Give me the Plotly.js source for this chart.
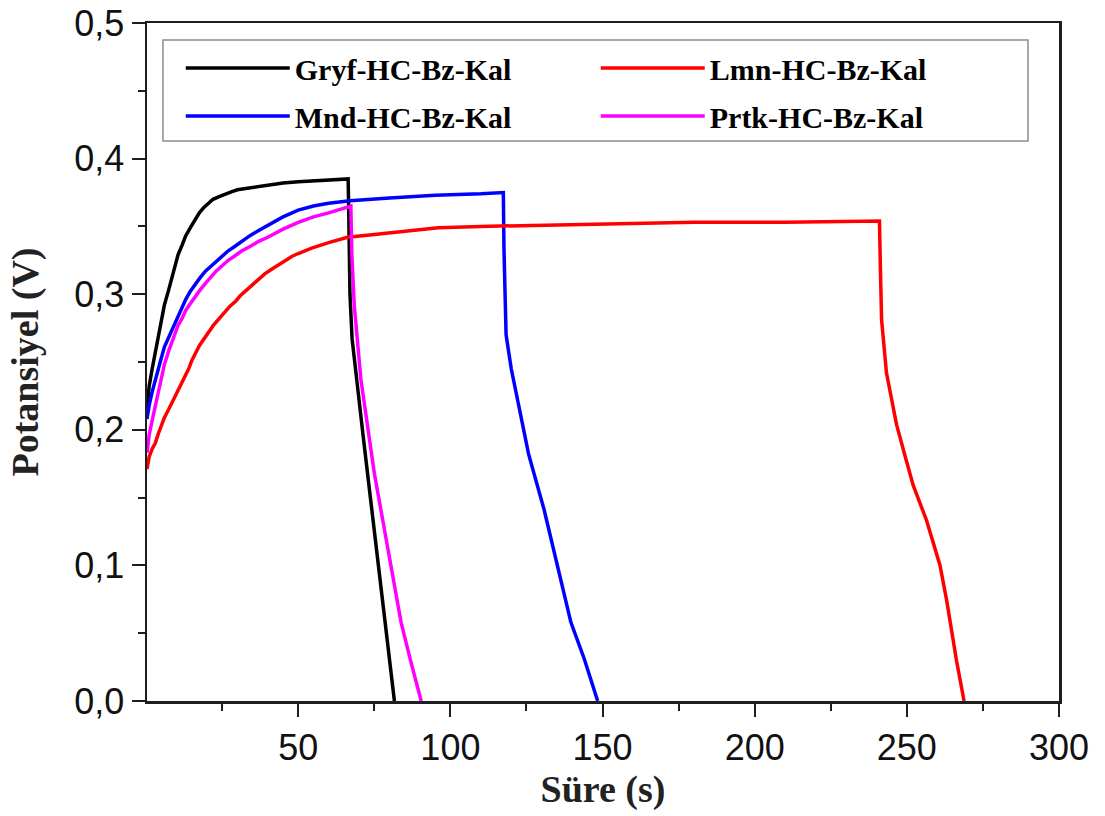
<!DOCTYPE html>
<html>
<head>
<meta charset="utf-8">
<script src="https://cdn.plot.ly/plotly-3.0.1.min.js"></script>
<style>html,body{margin:0;padding:0;background:#fff;}#chart{width:1105px;height:816px;}</style>
</head>
<body>
<div id="chart"></div>
<script>
// ---- data ----
const seriesNames = ["Gryf-HC-Bz-Kal", "Mnd-HC-Bz-Kal", "Lmn-HC-Bz-Kal", "Prtk-HC-Bz-Kal"];
const seriesColors = ["#000000", "#0000ff", "#ff0000", "#ff00ff"];

const gryfT = [0.3, 1, 2, 3, 4, 5, 6, 7.4, 8.5, 9.5, 10.5, 11.8, 13, 14.8, 16, 17.5, 19, 20.5, 22, 24, 26, 28, 30, 33, 36, 41, 45, 50, 54, 58, 62, 66.4, 66.6, 67, 67.7, 69.1, 71.3, 73.5, 75.7, 78, 79.7, 81.6];
const gryfV = [0.215, 0.232, 0.245, 0.257, 0.270, 0.281, 0.292, 0.303, 0.313, 0.321, 0.329, 0.336, 0.343, 0.350, 0.355, 0.360, 0.364, 0.367, 0.370, 0.372, 0.374, 0.3755, 0.377, 0.378, 0.3795, 0.381, 0.382, 0.383, 0.3835, 0.384, 0.3845, 0.385, 0.36, 0.30, 0.267, 0.237, 0.196, 0.154, 0.113, 0.072, 0.036, 0.0];

const mndT = [0.3, 1, 2, 3, 4, 5, 6, 7.4, 8.5, 9.5, 10.5, 11.8, 13, 14.5, 16, 17.7, 19.5, 21, 23, 25, 27, 29, 31.5, 34, 37, 40, 45, 50, 55, 60, 67, 80, 95, 110, 117.4, 117.6, 117.9, 118.3, 120, 122, 125.7, 130.8, 135.2, 139.6, 144, 148.4];
const mndV = [0.208, 0.218, 0.228, 0.237, 0.245, 0.253, 0.261, 0.268, 0.275, 0.280, 0.285, 0.291, 0.296, 0.302, 0.307, 0.312, 0.317, 0.320, 0.324, 0.328, 0.332, 0.335, 0.339, 0.343, 0.347, 0.351, 0.357, 0.362, 0.365, 0.367, 0.369, 0.371, 0.373, 0.374, 0.375, 0.334, 0.305, 0.270, 0.245, 0.223, 0.182, 0.141, 0.099, 0.058, 0.031, 0.0];

const lmnT = [0.3, 1, 2, 3, 4, 5, 6, 7.4, 8.5, 9.5, 10.5, 11.8, 13, 14, 15, 16.3, 17.5, 19, 20.5, 22.1, 24, 25.5, 27.5, 29.5, 31, 33, 35, 36.8, 39, 41, 43, 45.6, 48, 50, 54.4, 60, 66.2, 75, 83.8, 96, 110, 130, 155, 180, 210, 241, 241.3, 241.7, 243.3, 246.6, 249.5, 252.1, 256.5, 260.9, 263.1, 266.3, 268.8];
const lmnV = [0.171, 0.180, 0.186, 0.190, 0.197, 0.203, 0.209, 0.215, 0.220, 0.224, 0.229, 0.234, 0.240, 0.245, 0.251, 0.257, 0.262, 0.267, 0.272, 0.277, 0.282, 0.286, 0.291, 0.295, 0.299, 0.303, 0.307, 0.311, 0.315, 0.318, 0.321, 0.325, 0.328, 0.330, 0.334, 0.338, 0.342, 0.344, 0.346, 0.349, 0.350, 0.351, 0.352, 0.353, 0.353, 0.354, 0.32, 0.281, 0.242, 0.204, 0.180, 0.159, 0.133, 0.100, 0.074, 0.030, 0.0];

const prtkT = [0.3, 1, 2, 3, 4, 5, 6, 7.4, 8.5, 9.5, 10.5, 11.8, 13, 14.5, 16, 17.7, 19.5, 21, 23, 25, 27, 29, 31.5, 34, 37, 40, 45, 50, 55, 60, 64, 67.3, 67.6, 68.4, 70.6, 75, 79.4, 83.8, 87, 90.4];
const prtkV = [0.183, 0.196, 0.207, 0.217, 0.228, 0.238, 0.248, 0.258, 0.265, 0.271, 0.277, 0.282, 0.288, 0.293, 0.298, 0.303, 0.308, 0.312, 0.317, 0.321, 0.325, 0.328, 0.332, 0.335, 0.339, 0.342, 0.348, 0.353, 0.357, 0.360, 0.363, 0.365, 0.33, 0.292, 0.237, 0.168, 0.113, 0.058, 0.029, 0.0];

const xTickVals = [50, 100, 150, 200, 250, 300];
const xMinorVals = [25, 75, 125, 175, 225, 275];
const xTitle = "Süre (s)";
const yTitle = "Potansiyel (V)";

// ---- traces ----
const xs = [gryfT, mndT, lmnT, prtkT];
const ys = [gryfV, mndV, lmnV, prtkV];
const legendOf = ["legend", "legend2", "legend", "legend2"];
const traces = seriesNames.map((n, i) => ({
  type: "scatter", mode: "lines", name: n,
  x: xs[i], y: ys[i],
  line: {color: seriesColors[i], width: 3.5},
  legend: legendOf[i]
}));

const serif = '"Times New Roman", "Liberation Serif", serif';
const sans = 'Arial, "Liberation Sans", sans-serif';
const legendFont = {family: serif, size: 30, weight: "bold", color: "#000"};
const legendCommon = {
  orientation: "h", xref: "paper", yref: "paper", x: 0.037, xanchor: "left",
  yanchor: "middle", entrywidth: 296, entrywidthmode: "pixels", itemwidth: 104,
  font: legendFont, bgcolor: "rgba(0,0,0,0)", borderwidth: 0, traceorder: "normal"
};

const axisCommon = {
  showline: true, mirror: true, linecolor: "#1e1e1e", linewidth: 2.5,
  showgrid: false, zeroline: false, ticks: "outside", ticklen: 13, tickwidth: 2, tickcolor: "#1e1e1e",
  tickfont: {family: sans, size: 36, color: "#111"}
};

const layout = {
  width: 1105, height: 816,
  paper_bgcolor: "#fff", plot_bgcolor: "#fff",
  margin: {l: 147, r: 46, t: 23, b: 115},
  separators: ",.",
  showlegend: true,
  xaxis: Object.assign({}, axisCommon, {
    range: [0.3, 300], tickmode: "array", tickvals: xTickVals,
    minor: {tickmode: "array", tickvals: xMinorVals, ticklen: 7, tickwidth: 2, tickcolor: "#1e1e1e", ticks: "outside"},
    title: {text: xTitle, font: {family: serif, size: 38, weight: "bold", color: "#222"}, standoff: 5}
  }),
  yaxis: Object.assign({}, axisCommon, {
    range: [0, 0.5], dtick: 0.1, tick0: 0, tickformat: ".1f",
    minor: {dtick: 0.05, ticklen: 7, tickwidth: 2, tickcolor: "#1e1e1e", ticks: "outside"},
    title: {text: yTitle, font: {family: serif, size: 38, weight: "bold", color: "#222"}, standoff: 24}
  }),
  legend: Object.assign({}, legendCommon, {y: 0.9337}),
  legend2: Object.assign({}, legendCommon, {y: 0.8629}),
  shapes: [{
    type: "rect", xref: "paper", yref: "paper",
    x0: 0.0175, x1: 0.966, y0: 0.826, y1: 0.975,
    line: {color: "#8c8c8c", width: 1.5}, fillcolor: "rgba(0,0,0,0)", layer: "above"
  }]
};

Plotly.newPlot("chart", traces, layout, {displayModeBar: false, staticPlot: true});
</script>
</body>
</html>
